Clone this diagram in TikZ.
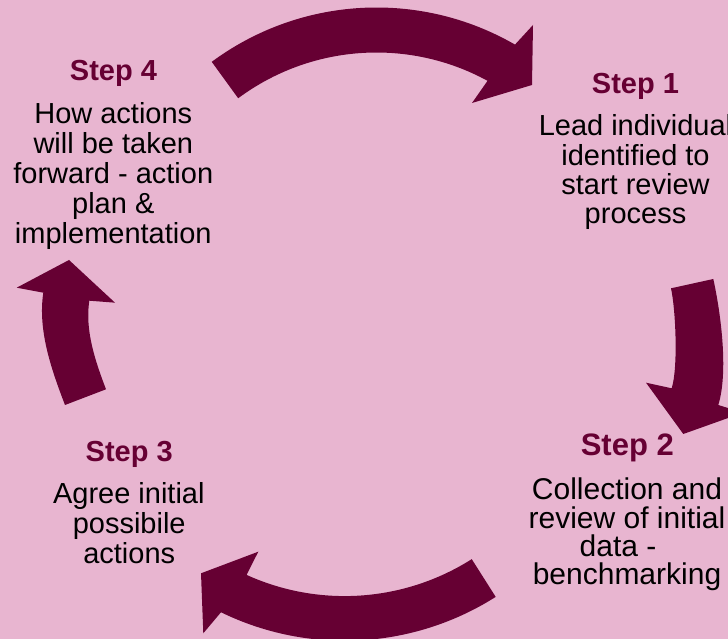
\documentclass[tikz,border=0pt]{standalone}
\usepackage{fontspec}
\setmainfont{Liberation Sans}
\usetikzlibrary{calc}
\definecolor{bgpink}{RGB}{232,181,208}
\definecolor{maroon}{RGB}{102,0,51}
\begin{document}
\begin{tikzpicture}[x=1pt,y=1pt,
  cyclearrow/.style={fill=maroon,draw=none},
  steptitle/.style={anchor=base,inner sep=0pt,text=maroon,font=\bfseries\fontsize{29}{30}\selectfont},
  bigtitle/.style={steptitle,font=\bfseries\fontsize{31}{32}\selectfont},
  bodyline/.style={anchor=base,inner sep=0pt,text=black,font=\fontsize{29}{30}\selectfont},
  bigline/.style={bodyline,font=\fontsize{30}{31}\selectfont}]
\useasboundingbox (0,0) rectangle (728,639);
\fill[bgpink] (0,0) rectangle (728,639);
\clip (0,0) rectangle (728,639);
% centres of the circular arrows
\coordinate (ctop) at (376.5,354.5);
\coordinate (cbot) at (344.6,280.2);
% top arrow (Step 4 -> Step 1)
\fill[cyclearrow] ($(ctop)+(126.5:277)$) arc[start angle=126.5,end angle=60,radius=277]
  -- (533,614) -- (532,554) -- (472,536)
  -- ($(ctop)+(61.4:232)$) arc[start angle=61.4,end angle=126.6,radius=232] -- cycle;
% right arrow (Step 1 -> Step 2)
\fill[cyclearrow] (713.3,360) .. controls (720.8,325.8) and (728.6,267.4) .. (718.3,234)
  -- (743,226.3) -- (683.3,205) -- (646,256.3) -- (671.7,250.7)
  .. controls (678.2,271.7) and (675.7,329.2) .. (671,350.7) -- cycle;
% bottom arrow (Step 2 -> Step 3)
\fill[cyclearrow] ($(cbot)+(-57.6:282)$) arc[start angle=-57.6,end angle=-116,radius=282]
  -- (203.3,5.7) -- (201,65.7) -- (258.3,87.3)
  -- ($(cbot)+(-114.4:237.3)$) arc[start angle=-114.4,end angle=-57.6,radius=237.3] -- cycle;
% left arrow (Step 3 -> Step 4)
\fill[cyclearrow] (65,234) .. controls (51.4,269.5) and (37.6,308.7) .. (43.3,346.3)
  -- (16.7,351.3) -- (69,379) -- (115,336.3) -- (89.3,338.3)
  .. controls (84.8,308.6) and (95.3,277.7) .. (106,249.7) -- cycle;
% Step 1
\node[steptitle] (s1t) at (635.5,545.7) {Step 1};
\node[bodyline] (s1a) at (635.5,503) {Lead individual};
\node[bodyline] (s1b) at (635.5,473.7) {identified to};
\node[bodyline] (s1c) at (635.5,444.4) {start review};
\node[bodyline] (s1d) at (635.5,415.1) {process};
% Step 2
\node[bigtitle] (s2t) at (627.3,183.3) {Step 2};
\node[bigline] (s2a) at (627,139) {Collection and};
\node[bigline] (s2b) at (627,110.7) {review of initial};
\node[bigline] (s2c) at (618,82.4) {data -};
\node[bigline] (s2d) at (627,54) {benchmarking};
% Step 3
\node[steptitle] (s3t) at (129.2,177.3) {Step 3};
\node[bodyline] (s3a) at (128.8,135.7) {Agree initial};
\node[bodyline] (s3b) at (129.2,105.7) {possibile};
\node[bodyline] (s3c) at (129.2,75.7) {actions};
% Step 4
\node[steptitle] (s4t) at (113.5,558.3) {Step 4};
\node[bodyline] (s4a) at (113.3,515.7) {How actions};
\node[bodyline] (s4b) at (113.3,485.7) {will be taken};
\node[bodyline] (s4c) at (113.3,455.7) {forward - action};
\node[bodyline] (s4d) at (113.3,425.7) {plan \&};
\node[bodyline] (s4e) at (113.3,395.7) {implementation};
\end{tikzpicture}
\end{document}
